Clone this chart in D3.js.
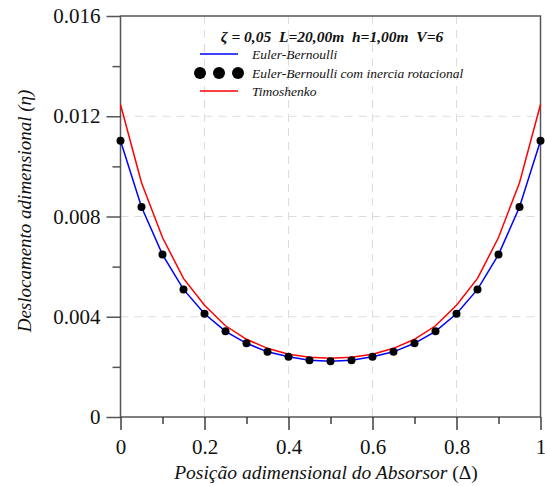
<!DOCTYPE html>
<html>
<head>
<meta charset="utf-8">
<script src="https://cdn.jsdelivr.net/npm/d3@7/dist/d3.min.js"></script>
<style>
  body { margin: 0; background: #fff; }
  svg { display: block; }
  svg text { font-family: "Liberation Serif", "DejaVu Serif", serif; }
</style>
</head>
<body>
<svg id="chart" width="545" height="486"></svg>
<script>
// ---- data ----
const positions = [0, 0.05, 0.1, 0.15, 0.2, 0.25, 0.3, 0.35, 0.4, 0.45, 0.5,
                   0.55, 0.6, 0.65, 0.7, 0.75, 0.8, 0.85, 0.9, 0.95, 1];
const eulerBernoulli = [0.01102, 0.00838, 0.00648, 0.00509, 0.00412, 0.00342, 0.00294, 0.0026, 0.0024, 0.00226, 0.00222,
                        0.00226, 0.0024, 0.0026, 0.00294, 0.00342, 0.00412, 0.00509, 0.00648, 0.00838, 0.01102];
const eulerBernoulliRot = eulerBernoulli.slice();
const timoshenko = [0.01247, 0.00935, 0.00716, 0.00553, 0.00446, 0.00364, 0.0031, 0.00274, 0.0025, 0.00238, 0.00234,
                    0.00238, 0.0025, 0.00274, 0.0031, 0.00364, 0.00446, 0.00553, 0.00716, 0.00935, 0.01247];
const xTicks = [0, 0.2, 0.4, 0.6, 0.8, 1];
const xMinorTicks = [0.1, 0.3, 0.5, 0.7, 0.9];
const yTicks = [0, 0.004, 0.008, 0.012, 0.016];
const yMinorTicks = [0.002, 0.006, 0.01, 0.014];
const legendTitle = "ζ = 0,05  L=20,00m  h=1,00m  V=6";
const seriesNames = ["Euler-Bernoulli", "Euler-Bernoulli com inercia rotacional", "Timoshenko"];

// ---- layout ----
const svg = d3.select("#chart");
const L = 120.5, R = 540.5, T = 16, B = 417;
const x = d3.scaleLinear().domain([0, 1]).range([L, R]);
const y = d3.scaleLinear().domain([0, 0.016]).range([B, T]);
const serif = '"Liberation Serif", "DejaVu Serif", serif';
const axisColor = "#555";

// grid
const grid = svg.append("g");
grid.selectAll("line.gx").data(xTicks.slice(1, -1)).join("line")
  .attr("x1", d => x(d)).attr("x2", d => x(d)).attr("y1", T).attr("y2", B)
  .attr("stroke", "#dcdcdc").attr("stroke-dasharray", "8,6").attr("stroke-width", 1);
grid.selectAll("line.gy").data(yTicks.slice(1, -1)).join("line")
  .attr("y1", d => y(d)).attr("y2", d => y(d)).attr("x1", L).attr("x2", R)
  .attr("stroke", "#dcdcdc").attr("stroke-dasharray", "8,6").attr("stroke-width", 1);

// frame
svg.append("rect").attr("x", L).attr("y", T).attr("width", R - L).attr("height", B - T)
  .attr("fill", "none").attr("stroke", axisColor).attr("stroke-width", 1.5);

// x axis
const xAxis = d3.axisBottom(x).tickValues(xTicks).tickSize(13).tickPadding(9)
  .tickFormat(d => d === 0 || d === 1 ? d3.format("d")(d) : d3.format(".1f")(d));
const gx = svg.append("g").attr("transform", `translate(0,${B})`).call(xAxis);
gx.attr("font-family", null);
gx.select(".domain").remove();
gx.selectAll(".tick line").attr("stroke", "#222").attr("stroke-width", 1.3);
gx.selectAll(".tick text").style("font-family", serif).style("font-size", "21px").attr("fill", "#111");
const gxm = svg.append("g").attr("transform", `translate(0,${B})`)
  .call(d3.axisBottom(x).tickValues(xMinorTicks).tickSize(7).tickFormat(""));
gxm.select(".domain").remove();
gxm.selectAll(".tick line").attr("stroke", "#222").attr("stroke-width", 1.3);

// y axis
const yAxis = d3.axisLeft(y).tickValues(yTicks).tickSize(14).tickPadding(6)
  .tickFormat(d => d === 0 ? "0" : d3.format(".3f")(d));
const gy = svg.append("g").attr("transform", `translate(${L},0)`).call(yAxis);
gy.attr("font-family", null);
gy.select(".domain").remove();
gy.selectAll(".tick line").attr("stroke", axisColor).attr("stroke-width", 1.5);
gy.selectAll(".tick text").style("font-family", serif).style("font-size", "21px").attr("fill", "#111");
const gym = svg.append("g").attr("transform", `translate(${L},0)`)
  .call(d3.axisLeft(y).tickValues(yMinorTicks).tickSize(8).tickFormat(""));
gym.select(".domain").remove();
gym.selectAll(".tick line").attr("stroke", axisColor).attr("stroke-width", 1.5);

// axis titles
const xt = svg.append("text").attr("x", 326).attr("y", 479).attr("text-anchor", "middle")
  .style("font-family", serif).style("font-size", "19.5px").attr("fill", "#111");
xt.append("tspan").style("font-style", "italic").text("Posição adimensional do Absorsor ");
xt.append("tspan").text("(Δ)");
const yt = svg.append("text").attr("transform", `translate(31,211) rotate(-90)`)
  .attr("text-anchor", "middle").style("font-family", serif).style("font-size", "19px").attr("fill", "#111")
  .style("font-style", "italic");
yt.append("tspan").text("Deslocamento adimensional (");
yt.append("tspan").text("η");
yt.append("tspan").text(")");

// series
const line = d3.line().x(d => x(d[0])).y(d => y(d[1]));
const plot = svg.append("g");
plot.append("path").datum(positions.map((p, i) => [p, eulerBernoulli[i]]))
  .attr("d", line).attr("fill", "none").attr("stroke", "#0000ff").attr("stroke-width", 1.5);
plot.append("path").datum(positions.map((p, i) => [p, timoshenko[i]]))
  .attr("d", line).attr("fill", "none").attr("stroke", "#ff0000").attr("stroke-width", 1.5);
plot.selectAll("circle").data(positions.map((p, i) => [p, eulerBernoulliRot[i]])).join("circle")
  .attr("cx", d => x(d[0])).attr("cy", d => y(d[1])).attr("r", 4).attr("fill", "#000");

// legend
const lg = svg.append("g");
lg.append("text").attr("x", 332).attr("y", 42).attr("text-anchor", "middle")
  .style("font-family", serif).style("font-size", "15.5px").style("font-weight", "bold").style("font-style", "italic")
  .attr("fill", "#111").style("white-space", "pre").text(legendTitle);
const rows = [
  { name: seriesNames[0], y: 54, type: "line", color: "#0000ff" },
  { name: seriesNames[1], y: 73, type: "dots", color: "#000" },
  { name: seriesNames[2], y: 91, type: "line", color: "#ff0000" }
];
rows.forEach(r => {
  if (r.type === "line") {
    lg.append("line").attr("x1", 200).attr("x2", 238).attr("y1", r.y).attr("y2", r.y)
      .attr("stroke", r.color).attr("stroke-width", 1.5);
  } else {
    [200, 219, 238].forEach(cx => lg.append("circle").attr("cx", cx).attr("cy", r.y).attr("r", 6).attr("fill", r.color));
  }
  lg.append("text").attr("x", 252).attr("y", r.y + 4.5).style("font-family", serif)
    .style("font-size", "13.5px").style("font-style", "italic").attr("fill", "#111").text(r.name);
});
</script>
</body>
</html>
